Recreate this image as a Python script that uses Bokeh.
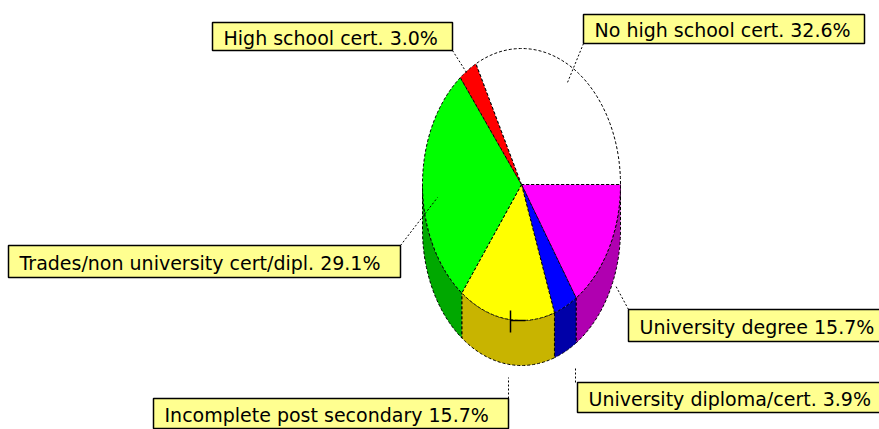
import numpy as np
from bokeh.plotting import figure
from bokeh.models import Range1d, ColumnDataSource
from bokeh.embed import file_html
from bokeh.resources import INLINE
from bokeh.core.properties import value

# ---- data (clockwise from 3 o'clock) ----
categories = ["University degree", "University diploma/cert.", "Incomplete post secondary",
              "Trades/non university cert/dipl.", "High school cert.", "No high school cert."]
shares = [15.7, 3.9, 15.7, 29.1, 3.0, 32.6]
top_colors = ["#ff00ff", "#0000ff", "#ffff00", "#00ff00", "#ff0000", "#ffffff"]
side_colors = ["#b000b0", "#0000a8", "#c8b400", "#00a800", "#b00000", "#e0e0e0"]
label_texts = [f"{c} {v:.1f}%" for c, v in zip(categories, shares)]

# ---- layout (image pixel coordinates) ----
cx, cy, rx, ry, depth = 521, 184, 99, 136, 45
# label boxes: left, right, top, bottom
boxes = [(628, 885, 309, 341), (577, 885, 382, 412), (153, 508, 398, 428),
         (8, 400, 245, 277), (212, 452, 22, 50), (583, 864, 14, 43)]
# leader lines: (x0, y0, x1, y1)
leaders = [(628, 309, 615, 285), (575, 382, 575, 366), (508, 398, 508, 377),
           (400, 245, 437, 197), (452, 50, 466, 72), (583, 43, 567, 82)]

p = figure(width=879, height=429, x_range=Range1d(0, 879), y_range=Range1d(429, 0),
           output_backend="svg", toolbar_location=None, min_border=0)
p.axis.visible = False
p.grid.visible = False
p.outline_line_color = None
p.background_fill_color = "white"

total = sum(shares)
ends = np.cumsum(shares) / total * 2 * np.pi
starts = np.concatenate([[0], ends[:-1]])

# sides (only lower half visible)
sx, sy, sc = [], [], []
for a, b, col in zip(starts, ends, side_colors):
    lo, hi = max(a, 0.0), min(b, np.pi)
    if hi <= lo:
        continue
    t = np.linspace(lo, hi, 60)
    xs = list(cx + rx * np.cos(t)) + list(cx + rx * np.cos(t[::-1]))
    ys = list(cy + ry * np.sin(t)) + list(cy + ry * np.sin(t[::-1]) + depth)
    sx.append(xs); sy.append(ys); sc.append(col)
p.patches(xs="xs", ys="ys", fill_color="c",
          source=ColumnDataSource(dict(xs=sx, ys=sy, c=sc)),
          line_color="black", line_width=1, line_dash="3 2")

# top faces
tx, ty = [], []
for a, b in zip(starts, ends):
    t = np.linspace(a, b, 80)
    tx.append([cx] + list(cx + rx * np.cos(t)))
    ty.append([cy] + list(cy + ry * np.sin(t)))
p.patches(xs="xs", ys="ys", fill_color="c",
          source=ColumnDataSource(dict(xs=tx, ys=ty, c=top_colors)),
          line_color="black", line_width=1, line_dash="3 2")

# small anchor tick on the yellow slice side
p.segment(x0=[510, 510], y0=[310, 320], x1=[510, 525], y1=[332, 320],
          line_color="black", line_width=1.5)

# leader lines
p.segment(x0=[l[0] for l in leaders], y0=[l[1] for l in leaders],
          x1=[l[2] for l in leaders], y1=[l[3] for l in leaders],
          line_color="black", line_width=1, line_dash="2 2")

# label boxes
p.quad(left=[b[0] for b in boxes], right=[b[1] for b in boxes],
       top=[b[2] for b in boxes], bottom=[b[3] for b in boxes],
       fill_color="#ffff90", line_color="black", line_width=1.5)

p.text(x=[b[0] + 11 for b in boxes], y=[(b[2] + b[3]) / 2 + 1 for b in boxes], text=label_texts,
       text_font=value("DejaVu Sans"), text_font_size="19px", text_baseline="middle",
       text_align="left", text_color="black")

open("out.html", "w").write(file_html(p, INLINE))
